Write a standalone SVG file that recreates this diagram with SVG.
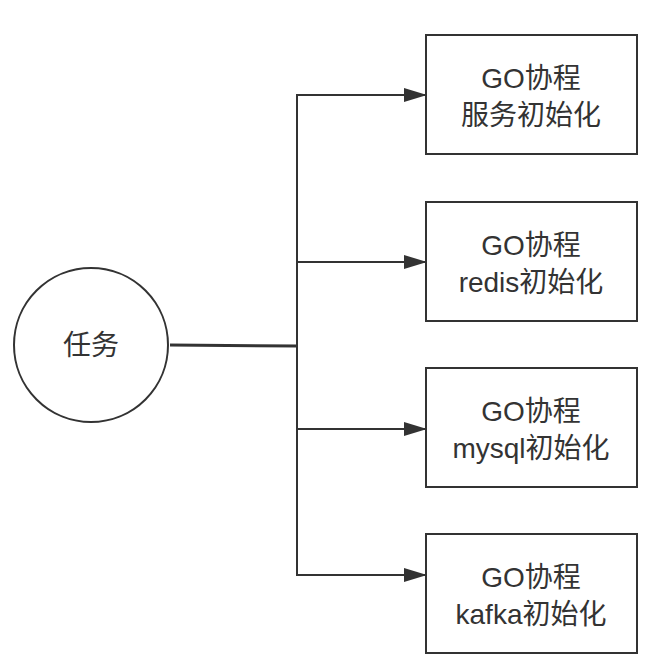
<svg xmlns="http://www.w3.org/2000/svg" width="648" height="662" viewBox="0 0 648 662">
<style>
.n{fill:#fff;stroke:#333;stroke-width:2}
.t{font-family:"Liberation Sans","Noto Sans CJK SC",sans-serif;font-size:28px;fill:#333;text-anchor:middle}
.c{fill:none;stroke:#333;stroke-width:2}
.m{fill:none;stroke:#333;stroke-width:3}
</style>
<defs>
<marker id="ah" markerWidth="23" markerHeight="14" refX="22" refY="7" orient="auto" markerUnits="userSpaceOnUse">
<path d="M0,0 L23,7 L0,14 Z" fill="#333"/>
</marker>
</defs>
<rect width="648" height="662" fill="#fff"/>
<g id="connectors">
<line x1="170" y1="345" x2="298" y2="346" class="m"/>
<polyline points="426,95 297,95 297,575 426,575" class="c"/>
<line x1="297" y1="95" x2="426" y2="95" class="c" marker-end="url(#ah)"/>
<line x1="297" y1="262" x2="426" y2="262" class="c" marker-end="url(#ah)"/>
<line x1="297" y1="429" x2="426" y2="429" class="c" marker-end="url(#ah)"/>
<line x1="297" y1="575" x2="426" y2="575" class="c" marker-end="url(#ah)"/>
</g>
<g id="task">
<circle cx="91" cy="345" r="77" class="n"/>
<text x="91" y="355" class="t">任务</text>
</g>
<g id="n1">
<rect x="426" y="35" width="211" height="119" class="n"/>
<text x="531" y="88" class="t">GO协程</text>
<text x="531" y="125" class="t">服务初始化</text>
</g>
<g id="n2">
<rect x="426" y="202" width="211" height="119" class="n"/>
<text x="531" y="255" class="t">GO协程</text>
<text x="531" y="292" class="t">redis初始化</text>
</g>
<g id="n3">
<rect x="426" y="368" width="211" height="119" class="n"/>
<text x="531" y="421" class="t">GO协程</text>
<text x="531" y="458" class="t">mysql初始化</text>
</g>
<g id="n4">
<rect x="426" y="534" width="211" height="119" class="n"/>
<text x="531" y="587" class="t">GO协程</text>
<text x="531" y="624" class="t">kafka初始化</text>
</g>
</svg>
